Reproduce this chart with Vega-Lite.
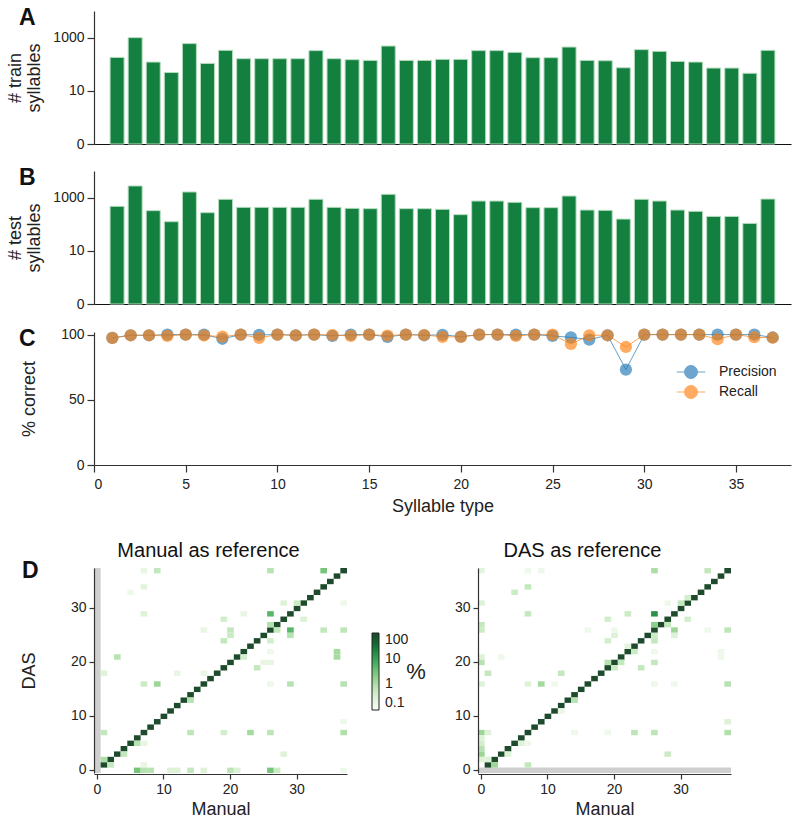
{
  "$schema": "https://vega.github.io/schema/vega-lite/v6.json",
  "background": "white",
  "padding": {"left": 4, "top": 7, "right": 2, "bottom": 2},
  "config": {
    "font": "Liberation Sans",
    "view": {"stroke": null},
    "axis": {"domainColor": "#333", "tickColor": "#333", "labelColor": "#222", "titleColor": "#222", "labelFontSize": 14, "titleFontSize": 18, "titleFontWeight": "normal", "grid": false, "tickSize": 7, "domainWidth": 1.2, "tickWidth": 1.2, "labelPadding": 3},
    "title": {"fontSize": 23, "fontWeight": "bold", "color": "#111"},
    "legend": {"labelColor": "#222", "titleColor": "#222"}
  },
  "datasets": {
    "counts": [
      {"type": 1, "train": 181, "test": 472}, {"type": 2, "train": 1000, "test": 2744}, {"type": 3, "train": 121, "test": 325},
      {"type": 4, "train": 49, "test": 125}, {"type": 5, "train": 597, "test": 1631}, {"type": 6, "train": 108, "test": 273},
      {"type": 7, "train": 334, "test": 866}, {"type": 8, "train": 162, "test": 432}, {"type": 9, "train": 162, "test": 432},
      {"type": 10, "train": 162, "test": 432}, {"type": 11, "train": 162, "test": 432}, {"type": 12, "train": 326, "test": 866},
      {"type": 13, "train": 162, "test": 432}, {"type": 14, "train": 149, "test": 397}, {"type": 15, "train": 140, "test": 386},
      {"type": 16, "train": 484, "test": 1336}, {"type": 17, "train": 140, "test": 386}, {"type": 18, "train": 140, "test": 386},
      {"type": 19, "train": 153, "test": 364}, {"type": 20, "train": 153, "test": 230}, {"type": 21, "train": 326, "test": 747},
      {"type": 22, "train": 326, "test": 747}, {"type": 23, "train": 280, "test": 668}, {"type": 24, "train": 177, "test": 421},
      {"type": 25, "train": 177, "test": 421}, {"type": 26, "train": 444, "test": 1152}, {"type": 27, "train": 140, "test": 342},
      {"type": 28, "train": 136, "test": 334}, {"type": 29, "train": 74, "test": 157}, {"type": 30, "train": 355, "test": 866},
      {"type": 31, "train": 306, "test": 747}, {"type": 32, "train": 128, "test": 342}, {"type": 33, "train": 121, "test": 306},
      {"type": 34, "train": 72, "test": 198}, {"type": 35, "train": 72, "test": 198}, {"type": 36, "train": 46, "test": 108},
      {"type": 37, "train": 334, "test": 887}
    ],
    "pr": [
      {"type": 1, "metric": "Precision", "value": 97.5}, {"type": 2, "metric": "Precision", "value": 99.5}, {"type": 3, "metric": "Precision", "value": 99.5},
      {"type": 4, "metric": "Precision", "value": 100}, {"type": 5, "metric": "Precision", "value": 100}, {"type": 6, "metric": "Precision", "value": 100},
      {"type": 7, "metric": "Precision", "value": 96.8}, {"type": 8, "metric": "Precision", "value": 100}, {"type": 9, "metric": "Precision", "value": 99.8},
      {"type": 10, "metric": "Precision", "value": 100}, {"type": 11, "metric": "Precision", "value": 99.5}, {"type": 12, "metric": "Precision", "value": 100},
      {"type": 13, "metric": "Precision", "value": 99}, {"type": 14, "metric": "Precision", "value": 100}, {"type": 15, "metric": "Precision", "value": 100},
      {"type": 16, "metric": "Precision", "value": 98.3}, {"type": 17, "metric": "Precision", "value": 100}, {"type": 18, "metric": "Precision", "value": 99.5},
      {"type": 19, "metric": "Precision", "value": 99.8}, {"type": 20, "metric": "Precision", "value": 98.5}, {"type": 21, "metric": "Precision", "value": 100},
      {"type": 22, "metric": "Precision", "value": 100}, {"type": 23, "metric": "Precision", "value": 100}, {"type": 24, "metric": "Precision", "value": 100},
      {"type": 25, "metric": "Precision", "value": 99}, {"type": 26, "metric": "Precision", "value": 97.9}, {"type": 27, "metric": "Precision", "value": 96.2},
      {"type": 28, "metric": "Precision", "value": 99.5}, {"type": 29, "metric": "Precision", "value": 73.2}, {"type": 30, "metric": "Precision", "value": 100},
      {"type": 31, "metric": "Precision", "value": 100}, {"type": 32, "metric": "Precision", "value": 100}, {"type": 33, "metric": "Precision", "value": 100},
      {"type": 34, "metric": "Precision", "value": 100}, {"type": 35, "metric": "Precision", "value": 100}, {"type": 36, "metric": "Precision", "value": 100},
      {"type": 37, "metric": "Precision", "value": 97.8},
      {"type": 1, "metric": "Recall", "value": 97.5}, {"type": 2, "metric": "Recall", "value": 99.5}, {"type": 3, "metric": "Recall", "value": 99.5},
      {"type": 4, "metric": "Recall", "value": 99}, {"type": 5, "metric": "Recall", "value": 100}, {"type": 6, "metric": "Recall", "value": 99.3},
      {"type": 7, "metric": "Recall", "value": 98.5}, {"type": 8, "metric": "Recall", "value": 100}, {"type": 9, "metric": "Recall", "value": 97.5},
      {"type": 10, "metric": "Recall", "value": 100}, {"type": 11, "metric": "Recall", "value": 99.5}, {"type": 12, "metric": "Recall", "value": 100},
      {"type": 13, "metric": "Recall", "value": 99.7}, {"type": 14, "metric": "Recall", "value": 99}, {"type": 15, "metric": "Recall", "value": 100},
      {"type": 16, "metric": "Recall", "value": 99.3}, {"type": 17, "metric": "Recall", "value": 100}, {"type": 18, "metric": "Recall", "value": 99.7},
      {"type": 19, "metric": "Recall", "value": 98.3}, {"type": 20, "metric": "Recall", "value": 98.2}, {"type": 21, "metric": "Recall", "value": 100},
      {"type": 22, "metric": "Recall", "value": 100}, {"type": 23, "metric": "Recall", "value": 99}, {"type": 24, "metric": "Recall", "value": 100},
      {"type": 25, "metric": "Recall", "value": 100}, {"type": 26, "metric": "Recall", "value": 92.8}, {"type": 27, "metric": "Recall", "value": 99.5},
      {"type": 28, "metric": "Recall", "value": 99.5}, {"type": 29, "metric": "Recall", "value": 90.5}, {"type": 30, "metric": "Recall", "value": 100},
      {"type": 31, "metric": "Recall", "value": 100}, {"type": 32, "metric": "Recall", "value": 100}, {"type": 33, "metric": "Recall", "value": 100},
      {"type": 34, "metric": "Recall", "value": 96.5}, {"type": 35, "metric": "Recall", "value": 100}, {"type": 36, "metric": "Recall", "value": 98},
      {"type": 37, "metric": "Recall", "value": 97.6}
    ],
    "nanL": [{"c": 0}],
    "nanR": [{"r": 0}],
    "hmL": [
      {"c": 1, "r": 1, "v": 97}, {"c": 2, "r": 2, "v": 97}, {"c": 3, "r": 3, "v": 97}, {"c": 4, "r": 4, "v": 97}, {"c": 5, "r": 5, "v": 97},
      {"c": 6, "r": 6, "v": 97}, {"c": 7, "r": 7, "v": 97}, {"c": 8, "r": 8, "v": 97}, {"c": 9, "r": 9, "v": 97}, {"c": 10, "r": 10, "v": 97},
      {"c": 11, "r": 11, "v": 97}, {"c": 12, "r": 12, "v": 97}, {"c": 13, "r": 13, "v": 97}, {"c": 14, "r": 14, "v": 97}, {"c": 15, "r": 15, "v": 97},
      {"c": 16, "r": 16, "v": 97}, {"c": 17, "r": 17, "v": 97}, {"c": 18, "r": 18, "v": 97}, {"c": 19, "r": 19, "v": 97}, {"c": 20, "r": 20, "v": 97},
      {"c": 21, "r": 21, "v": 97}, {"c": 22, "r": 22, "v": 97}, {"c": 23, "r": 23, "v": 97}, {"c": 24, "r": 24, "v": 97}, {"c": 25, "r": 25, "v": 97},
      {"c": 26, "r": 26, "v": 97}, {"c": 27, "r": 27, "v": 97}, {"c": 28, "r": 28, "v": 97}, {"c": 29, "r": 29, "v": 97}, {"c": 30, "r": 30, "v": 97},
      {"c": 31, "r": 31, "v": 97}, {"c": 32, "r": 32, "v": 97}, {"c": 33, "r": 33, "v": 97}, {"c": 34, "r": 34, "v": 97}, {"c": 35, "r": 35, "v": 97},
      {"c": 36, "r": 36, "v": 97}, {"c": 37, "r": 37, "v": 97},
      {"c": 7, "r": 37, "v": 0.2}, {"c": 9, "r": 37, "v": 0.6}, {"c": 26, "r": 37, "v": 0.8}, {"c": 34, "r": 37, "v": 3},
      {"c": 7, "r": 34, "v": 0.25}, {"c": 5, "r": 33, "v": 0.15},
      {"c": 28, "r": 31, "v": 0.3}, {"c": 30, "r": 31, "v": 0.5}, {"c": 37, "r": 31, "v": 0.15},
      {"c": 7, "r": 29, "v": 0.3}, {"c": 22, "r": 29, "v": 0.2}, {"c": 26, "r": 29, "v": 5},
      {"c": 19, "r": 28, "v": 0.4}, {"c": 31, "r": 28, "v": 0.3},
      {"c": 26, "r": 27, "v": 0.9}, {"c": 27, "r": 26, "v": 0.6}, {"c": 29, "r": 26, "v": 5}, {"c": 34, "r": 26, "v": 0.6}, {"c": 37, "r": 26, "v": 0.7},
      {"c": 16, "r": 26, "v": 0.2}, {"c": 20, "r": 26, "v": 0.6},
      {"c": 29, "r": 25, "v": 0.8}, {"c": 20, "r": 25, "v": 0.5},
      {"c": 19, "r": 24, "v": 0.6}, {"c": 26, "r": 24, "v": 0.4},
      {"c": 26, "r": 22, "v": 0.15}, {"c": 22, "r": 21, "v": 0.4}, {"c": 3, "r": 21, "v": 0.8}, {"c": 36, "r": 21, "v": 1.2}, {"c": 36, "r": 22, "v": 1.2},
      {"c": 25, "r": 20, "v": 0.2}, {"c": 26, "r": 20, "v": 0.2},
      {"c": 24, "r": 19, "v": 0.6}, {"c": 1, "r": 18, "v": 0.3}, {"c": 12, "r": 18, "v": 0.2}, {"c": 16, "r": 18, "v": 0.2},
      {"c": 7, "r": 16, "v": 0.5}, {"c": 9, "r": 16, "v": 1.5}, {"c": 26, "r": 16, "v": 0.15}, {"c": 29, "r": 16, "v": 0.8}, {"c": 37, "r": 16, "v": 0.8},
      {"c": 14, "r": 13, "v": 0.8}, {"c": 37, "r": 9, "v": 0.15},
      {"c": 1, "r": 7, "v": 0.6}, {"c": 14, "r": 7, "v": 0.7}, {"c": 19, "r": 7, "v": 0.4}, {"c": 23, "r": 7, "v": 1.2}, {"c": 26, "r": 7, "v": 0.7}, {"c": 37, "r": 7, "v": 0.9},
      {"c": 6, "r": 5, "v": 0.8}, {"c": 7, "r": 5, "v": 0.2}, {"c": 4, "r": 3, "v": 0.6}, {"c": 28, "r": 3, "v": 0.3},
      {"c": 1, "r": 2, "v": 1}, {"c": 2, "r": 1, "v": 0.6}, {"c": 7, "r": 1, "v": 0.2},
      {"c": 6, "r": 0, "v": 3}, {"c": 7, "r": 0, "v": 0.8}, {"c": 8, "r": 0, "v": 0.8}, {"c": 11, "r": 0, "v": 0.3}, {"c": 12, "r": 0, "v": 0.3},
      {"c": 14, "r": 0, "v": 0.6}, {"c": 16, "r": 0, "v": 0.3}, {"c": 20, "r": 0, "v": 0.7}, {"c": 21, "r": 0, "v": 0.3}, {"c": 26, "r": 0, "v": 3},
      {"c": 27, "r": 0, "v": 0.5}, {"c": 37, "r": 0, "v": 0.15}
    ],
    "hmR": [
      {"c": 1, "r": 1, "v": 97}, {"c": 2, "r": 2, "v": 97}, {"c": 3, "r": 3, "v": 97}, {"c": 4, "r": 4, "v": 97}, {"c": 5, "r": 5, "v": 97},
      {"c": 6, "r": 6, "v": 97}, {"c": 7, "r": 7, "v": 97}, {"c": 8, "r": 8, "v": 97}, {"c": 9, "r": 9, "v": 97}, {"c": 10, "r": 10, "v": 97},
      {"c": 11, "r": 11, "v": 97}, {"c": 12, "r": 12, "v": 97}, {"c": 13, "r": 13, "v": 97}, {"c": 14, "r": 14, "v": 97}, {"c": 15, "r": 15, "v": 97},
      {"c": 16, "r": 16, "v": 97}, {"c": 17, "r": 17, "v": 97}, {"c": 18, "r": 18, "v": 97}, {"c": 19, "r": 19, "v": 97}, {"c": 20, "r": 20, "v": 97},
      {"c": 21, "r": 21, "v": 97}, {"c": 22, "r": 22, "v": 97}, {"c": 23, "r": 23, "v": 97}, {"c": 24, "r": 24, "v": 97}, {"c": 25, "r": 25, "v": 97},
      {"c": 26, "r": 26, "v": 97}, {"c": 27, "r": 27, "v": 97}, {"c": 28, "r": 28, "v": 97}, {"c": 29, "r": 29, "v": 97}, {"c": 30, "r": 30, "v": 97},
      {"c": 31, "r": 31, "v": 97}, {"c": 32, "r": 32, "v": 97}, {"c": 33, "r": 33, "v": 97}, {"c": 34, "r": 34, "v": 97}, {"c": 35, "r": 35, "v": 97},
      {"c": 36, "r": 36, "v": 97}, {"c": 37, "r": 37, "v": 97},
      {"c": 0, "r": 37, "v": 0.25}, {"c": 7, "r": 37, "v": 0.15}, {"c": 9, "r": 37, "v": 0.15}, {"c": 26, "r": 37, "v": 1.0}, {"c": 34, "r": 37, "v": 0.6},
      {"c": 7, "r": 34, "v": 0.6}, {"c": 5, "r": 33, "v": 0.5},
      {"c": 0, "r": 31, "v": 0.3}, {"c": 28, "r": 31, "v": 0.15}, {"c": 30, "r": 31, "v": 0.6}, {"c": 31, "r": 32, "v": 0.4},
      {"c": 7, "r": 29, "v": 0.6}, {"c": 22, "r": 29, "v": 0.5}, {"c": 26, "r": 29, "v": 15},
      {"c": 19, "r": 28, "v": 0.4}, {"c": 31, "r": 28, "v": 0.4},
      {"c": 0, "r": 27, "v": 0.6}, {"c": 26, "r": 27, "v": 2}, {"c": 28, "r": 27, "v": 0.6},
      {"c": 0, "r": 26, "v": 0.5}, {"c": 16, "r": 26, "v": 0.15}, {"c": 20, "r": 26, "v": 0.15}, {"c": 29, "r": 26, "v": 1.5}, {"c": 34, "r": 26, "v": 0.15}, {"c": 37, "r": 26, "v": 0.7},
      {"c": 20, "r": 25, "v": 0.3}, {"c": 29, "r": 25, "v": 0.3}, {"c": 26, "r": 25, "v": 0.5},
      {"c": 19, "r": 24, "v": 0.4}, {"c": 26, "r": 24, "v": 0.6},
      {"c": 22, "r": 23, "v": 0.25}, {"c": 26, "r": 22, "v": 0.15}, {"c": 23, "r": 22, "v": 0.5},
      {"c": 0, "r": 21, "v": 0.3}, {"c": 3, "r": 21, "v": 0.15}, {"c": 36, "r": 21, "v": 0.15}, {"c": 36, "r": 22, "v": 0.15},
      {"c": 0, "r": 20, "v": 0.8}, {"c": 19, "r": 20, "v": 0.8}, {"c": 21, "r": 20, "v": 0.6}, {"c": 26, "r": 20, "v": 0.6},
      {"c": 20, "r": 19, "v": 0.5}, {"c": 24, "r": 19, "v": 0.6},
      {"c": 1, "r": 18, "v": 0.6}, {"c": 12, "r": 18, "v": 0.6},
      {"c": 0, "r": 16, "v": 0.3}, {"c": 7, "r": 16, "v": 0.3}, {"c": 9, "r": 16, "v": 1.2}, {"c": 11, "r": 16, "v": 0.15}, {"c": 26, "r": 16, "v": 0.15}, {"c": 29, "r": 16, "v": 0.15}, {"c": 37, "r": 16, "v": 0.8},
      {"c": 14, "r": 13, "v": 0.8}, {"c": 12, "r": 11, "v": 0.2},
      {"c": 37, "r": 9, "v": 0.3},
      {"c": 0, "r": 7, "v": 1.5}, {"c": 1, "r": 7, "v": 0.3}, {"c": 14, "r": 7, "v": 0.15}, {"c": 19, "r": 7, "v": 0.15}, {"c": 23, "r": 7, "v": 0.7}, {"c": 26, "r": 7, "v": 0.7}, {"c": 37, "r": 7, "v": 0.9},
      {"c": 0, "r": 6, "v": 0.3}, {"c": 6, "r": 5, "v": 0.3}, {"c": 7, "r": 5, "v": 0.15},
      {"c": 0, "r": 5, "v": 0.4}, {"c": 0, "r": 4, "v": 0.8}, {"c": 0, "r": 3, "v": 1.5}, {"c": 4, "r": 3, "v": 0.3}, {"c": 28, "r": 3, "v": 0.5},
      {"c": 0, "r": 2, "v": 0.3}, {"c": 1, "r": 2, "v": 0.3},
      {"c": 2, "r": 1, "v": 1.5}, {"c": 7, "r": 1, "v": 0.6}
    ]
  },
  "spacing": 26,
  "resolve": {"scale": {"color": "independent"}, "legend": {"color": "independent"}},
  "vconcat": [
    {
      "spacing": 16,
      "resolve": {"scale": {"color": "independent"}, "legend": {"color": "independent"}},
      "vconcat": [
        {
          "data": {"name": "counts"},
          "width": 697, "height": 133,
          "title": {"text": "A", "anchor": "start", "frame": "group", "dx": -75, "offset": 0, "baseline": "alphabetic", "dy": 37},
          "mark": {"type": "bar", "size": 14, "color": "#13803f", "stroke": "#b5dcbf", "strokeWidth": 1},
          "encoding": {
            "x": {"field": "type", "type": "quantitative", "scale": {"domain": [0, 38], "nice": false}, "axis": {"ticks": false, "labels": false, "title": null, "domainColor": "#111"}},
            "y": {"field": "train", "type": "quantitative", "scale": {"type": "symlog", "constant": 0.102, "domain": [0, 10000], "nice": false}, "axis": {"values": [0, 10, 1000], "format": "d", "title": ["# train", "syllables"], "titleX": -69.5, "titleBaseline": "bottom", "titleLineHeight": 19}}
          }
        },
        {
          "data": {"name": "counts"},
          "width": 697, "height": 133,
          "title": {"text": "B", "anchor": "start", "frame": "group", "dx": -75, "offset": 0, "baseline": "alphabetic", "dy": 37},
          "mark": {"type": "bar", "size": 14, "color": "#13803f", "stroke": "#b5dcbf", "strokeWidth": 1},
          "encoding": {
            "x": {"field": "type", "type": "quantitative", "scale": {"domain": [0, 38], "nice": false}, "axis": {"ticks": false, "labels": false, "title": null, "domainColor": "#111"}},
            "y": {"field": "test", "type": "quantitative", "scale": {"type": "symlog", "constant": 0.102, "domain": [0, 10000], "nice": false}, "axis": {"values": [0, 10, 1000], "format": "d", "title": ["# test", "syllables"], "titleX": -69.5, "titleBaseline": "bottom", "titleLineHeight": 19}}
          }
        },
        {
          "data": {"name": "pr"},
          "width": 697, "height": 133,
          "title": {"text": "C", "anchor": "start", "frame": "group", "dx": -75, "offset": 0, "baseline": "alphabetic", "dy": 41.5},
          "mark": {"type": "line", "strokeWidth": 1, "opacity": 0.7, "point": {"filled": true, "size": 150, "opacity": 0.65}},
          "encoding": {
            "x": {"field": "type", "type": "quantitative", "scale": {"domain": [0, 38], "nice": false}, "axis": {"values": [0, 5, 10, 15, 20, 25, 30, 35], "title": "Syllable type", "labelPadding": 5, "titlePadding": 6}},
            "y": {"field": "value", "type": "quantitative", "scale": {"domain": [0, 102], "nice": false}, "axis": {"values": [0, 50, 100], "title": "% correct", "titleX": -55.5, "titleBaseline": "bottom"}},
            "color": {"field": "metric", "type": "nominal", "scale": {"domain": ["Precision", "Recall"], "range": ["#1f77b4", "#ff7f0e"]},
              "legend": {"title": null, "orient": "none", "legendX": 590, "legendY": 33, "padding": 0, "symbolType": "M1,0A1,1,0,1,1,-1,0A1,1,0,1,1,1,0M-2.2,0H2.2", "symbolSize": 169, "symbolStrokeWidth": 1, "symbolOpacity": 0.65, "labelFontSize": 14, "labelOffset": 21, "rowPadding": 2,
                "encode": {"symbols": {"update": {"fill": {"signal": "datum.value === 'Precision' ? '#1f77b4' : '#ff7f0e'"}, "stroke": {"signal": "datum.value === 'Precision' ? '#1f77b4' : '#ff7f0e'"}}}}}}
          }
        }
      ]
    },
    {
      "title": {"text": "D", "anchor": "start", "frame": "bounds", "offset": 0, "baseline": "alphabetic", "dx": 18, "dy": 60},
      "spacing": 28,
      "resolve": {"scale": {"color": "independent"}, "legend": {"color": "independent"}},
      "hconcat": [
        {
          "width": 253, "height": 205,
          "title": {"text": "Manual as reference", "fontSize": 20, "fontWeight": "normal", "dx": -12, "offset": 7, "anchor": "middle"},
          "layer": [
            {
              "data": {"name": "nanL"},
              "mark": {"type": "rect", "color": "#cfcfcf"},
              "encoding": {
                "x": {"field": "c", "type": "ordinal", "scale": {"domain": [0,1,2,3,4,5,6,7,8,9,10,11,12,13,14,15,16,17,18,19,20,21,22,23,24,25,26,27,28,29,30,31,32,33,34,35,36,37], "paddingInner": 0, "paddingOuter": 0}, "axis": {"values": [0, 10, 20, 30], "labelAngle": 0, "title": "Manual", "tickSize": 5, "offset": 1}}
              }
            },
            {
              "data": {"name": "hmL"},
              "mark": {"type": "rect"},
              "encoding": {
                "x": {"field": "c", "type": "ordinal"},
                "y": {"field": "r", "type": "ordinal", "scale": {"domain": [37,36,35,34,33,32,31,30,29,28,27,26,25,24,23,22,21,20,19,18,17,16,15,14,13,12,11,10,9,8,7,6,5,4,3,2,1,0], "paddingInner": 0, "paddingOuter": 0}, "axis": {"values": [0, 10, 20, 30], "title": ["", "DAS"], "titleLineHeight": 16, "titleX": -72, "titleBaseline": "bottom", "tickSize": 5}},
                "color": {"field": "v", "type": "quantitative", "scale": {"type": "log", "domain": [0.1, 100], "range": ["#f7fcf5", "#e5f5e0", "#c7e9c0", "#a1d99b", "#74c476", "#41ab5d", "#238b45", "#116530", "#1d4a2b"], "interpolate": "rgb", "clamp": true},
                  "legend": {"title": "%", "orient": "none", "legendX": 278, "legendY": 65, "direction": "vertical", "gradientLength": 77, "gradientThickness": 7, "values": [0.1, 1, 10, 100], "labelFontSize": 14, "labelOffset": 6, "titleFontSize": 22, "titleFontWeight": "normal", "titleOrient": "right", "titleAnchor": "middle", "titleBaseline": "middle", "titlePadding": 8, "gradientStrokeColor": "#222", "gradientStrokeWidth": 1, "padding": 0,
                    "encode": {"title": {"update": {"angle": {"value": 0}}}}}}
              }
            }
          ]
        },
        {
          "width": 253, "height": 205,
          "title": {"text": "DAS as reference", "fontSize": 20, "fontWeight": "normal", "dx": -22, "offset": 7, "anchor": "middle"},
          "layer": [
            {
              "data": {"name": "nanR"},
              "mark": {"type": "rect", "color": "#cfcfcf"},
              "encoding": {
                "y": {"field": "r", "type": "ordinal", "scale": {"domain": [37,36,35,34,33,32,31,30,29,28,27,26,25,24,23,22,21,20,19,18,17,16,15,14,13,12,11,10,9,8,7,6,5,4,3,2,1,0], "paddingInner": 0, "paddingOuter": 0}, "axis": {"values": [0, 10, 20, 30], "title": null, "tickSize": 5}}
              }
            },
            {
              "data": {"name": "hmR"},
              "mark": {"type": "rect"},
              "encoding": {
                "x": {"field": "c", "type": "ordinal", "scale": {"domain": [0,1,2,3,4,5,6,7,8,9,10,11,12,13,14,15,16,17,18,19,20,21,22,23,24,25,26,27,28,29,30,31,32,33,34,35,36,37], "paddingInner": 0, "paddingOuter": 0}, "axis": {"values": [0, 10, 20, 30], "labelAngle": 0, "title": "Manual", "tickSize": 5, "offset": 1}},
                "y": {"field": "r", "type": "ordinal"},
                "color": {"field": "v", "type": "quantitative", "scale": {"type": "log", "domain": [0.1, 100], "range": ["#f7fcf5", "#e5f5e0", "#c7e9c0", "#a1d99b", "#74c476", "#41ab5d", "#238b45", "#116530", "#1d4a2b"], "interpolate": "rgb", "clamp": true}, "legend": null}
              }
            }
          ]
        }
      ]
    }
  ]
}
